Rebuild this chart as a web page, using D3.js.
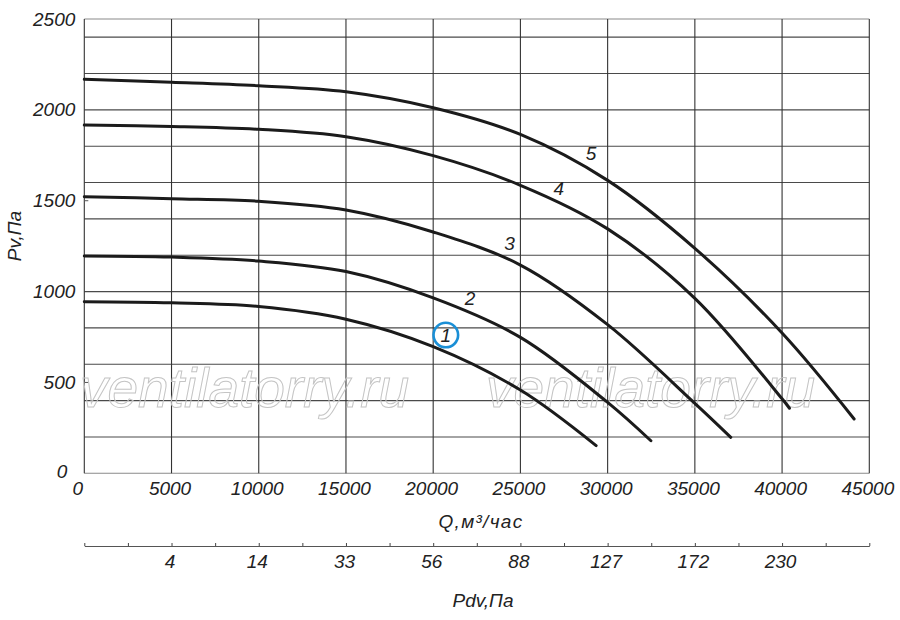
<!DOCTYPE html>
<html>
<head>
<meta charset="utf-8">
<script src="https://cdn.jsdelivr.net/npm/d3@7/dist/d3.min.js"></script>
<style>
  body { margin: 0; background: #fff; }
  svg { display: block; }
  text { font-family: "Liberation Sans", Arial, sans-serif; font-style: italic; fill: #222; }
</style>
</head>
<body>
<svg id="chart" width="900" height="620"></svg>
<script>
// ---- data ----
const qTicks = [0, 5000, 10000, 15000, 20000, 25000, 30000, 35000, 40000, 45000];
const pTicks = [0, 500, 1000, 1500, 2000, 2500];
const pGrid = [0, 200, 400, 600, 800, 1000, 1200, 1400, 1600, 1800, 2000, 2200, 2400, 2500];
const pMinorTicks = [500, 1500];
const pdvTickQ = [0, 2500, 5000, 7500, 10000, 12500, 15000, 17500, 20000, 22500, 25000, 27500, 30000, 32500, 35000, 37500, 40000, 42500, 45000];
const pdvLabelQ = [5000, 10000, 15000, 20000, 25000, 30000, 35000, 40000];
const pdvLabels = ["4", "14", "33", "56", "88", "127", "172", "230"];

const curveNames = ["1", "2", "3", "4", "5"];
const curve1Q = [0, 5000, 10000, 15000, 20000, 25000, 29340];
const curve1P = [944, 938, 918, 848, 697, 458, 152];
const curve2Q = [0, 5000, 10000, 15000, 20000, 25000, 30000, 32480];
const curve2P = [1196, 1190, 1168, 1110, 965, 748, 390, 179];
const curve3Q = [0, 5000, 10000, 15000, 20000, 25000, 30000, 35000, 37060];
const curve3P = [1522, 1511, 1497, 1449, 1328, 1146, 818, 385, 198];
const curve4Q = [0, 5000, 10000, 15000, 20000, 25000, 30000, 35000, 40000, 40425];
const curve4P = [1916, 1909, 1893, 1852, 1748, 1585, 1345, 963, 410, 358];
const curve5Q = [0, 5000, 10000, 15000, 20000, 25000, 30000, 35000, 40000, 44130];
const curve5P = [2168, 2152, 2133, 2100, 2012, 1865, 1612, 1238, 772, 299];
const labelQ = [20724, 22118, 24370, 27200, 29054];
const labelP = [761, 962, 1266, 1568, 1764];
const highlightedCurve = "1";

const xTitle = "Q,м³/час";
const yTitle = "Pv,Па";
const x2Title = "Pdv,Па";
const watermark = "ventilatorry.ru";

// ---- drawing ----
const svg = d3.select("#chart");
const x = d3.scaleLinear().domain([0, 45000]).range([84.3, 869.3]);
const y = d3.scaleLinear().domain([0, 2500]).range([473.3, 19]);

const curves = [
  curve1Q.map((q, i) => [q, curve1P[i]]),
  curve2Q.map((q, i) => [q, curve2P[i]]),
  curve3Q.map((q, i) => [q, curve3P[i]]),
  curve4Q.map((q, i) => [q, curve4P[i]]),
  curve5Q.map((q, i) => [q, curve5P[i]])
];

// grid
const grid = svg.append("g");
grid.selectAll("line.h").data(pGrid).join("line")
  .attr("x1", x(0)).attr("x2", x(45000))
  .attr("y1", d => y(d)).attr("y2", d => y(d))
  .attr("stroke", d => (d === 2500 || d === 0) ? "#8a8a8a" : "#4a4a4a")
  .attr("stroke-width", 1.1);
grid.selectAll("line.v").data(qTicks).join("line")
  .attr("x1", d => x(d)).attr("x2", d => x(d))
  .attr("y1", y(2500)).attr("y2", y(0))
  .attr("stroke", "#333").attr("stroke-width", 1.1);
grid.selectAll("line.m").data(pMinorTicks).join("line")
  .attr("x1", x(0)).attr("x2", x(0) + 4)
  .attr("y1", d => y(d)).attr("y2", d => y(d))
  .attr("stroke", "#555").attr("stroke-width", 1);

// watermark
const wm = svg.append("g");
[[80, 406.5], [486, 406.5]].forEach(p => {
  wm.append("text").attr("x", p[0]).attr("y", p[1])
    .attr("font-size", 55).style("fill", "none")
    .attr("stroke", "#c4c4c4").attr("stroke-width", 1)
    .text(watermark);
});

const fmt = d3.format("d");

// y axis labels
const yAxis = d3.axisLeft(y).tickValues(pTicks).tickFormat(fmt).tickSize(0).tickPadding(9);
const gy = svg.append("g").attr("transform", `translate(${x(0)},0)`).call(yAxis);
gy.select(".domain").remove();
gy.selectAll("text").attr("font-size", 19).attr("font-family", null)
  .attr("fill", "#222")
  .attr("dx", d => d === 0 ? -8 : 0).attr("dy", d => d === 0 ? "0.2em" : "0.32em");

// x axis labels
const xAxis = d3.axisBottom(x).tickValues(qTicks).tickFormat(fmt).tickSize(0).tickPadding(8);
const gx = svg.append("g").attr("transform", `translate(0,${y(0)})`).call(xAxis);
gx.select(".domain").remove();
gx.selectAll("text").attr("font-size", 19).attr("font-family", null)
  .attr("fill", "#222").attr("dx", d => d === 0 ? -7 : -2).attr("dy", "0.72em");

// secondary axis (Pdv)
const x2Axis = d3.axisBottom(x).tickValues(pdvTickQ).tickSizeInner(-3).tickSizeOuter(0).tickPadding(8)
  .tickFormat(d => { const i = pdvLabelQ.indexOf(d); return i >= 0 ? pdvLabels[i] : ""; });
const g2 = svg.append("g").attr("transform", "translate(0,546)").call(x2Axis);
g2.select(".domain").attr("stroke", "#555").attr("stroke-width", 1.2);
g2.selectAll(".tick line").attr("stroke", "#444");
g2.selectAll("text").attr("font-size", 19).attr("font-family", null)
  .attr("fill", "#222").attr("dx", -2).attr("dy", "0.75em");

// axis titles
svg.append("text").attr("x", 481).attr("y", 528).attr("text-anchor", "middle")
  .attr("font-size", 19).attr("letter-spacing", 1.3).text(xTitle);
svg.append("text").attr("x", 483).attr("y", 606.5).attr("text-anchor", "middle")
  .attr("font-size", 19).text(x2Title);
svg.append("text").attr("transform", "translate(21,236) rotate(-90)")
  .attr("text-anchor", "middle").attr("font-size", 19).text(yTitle);

// curves
const line = d3.line().x(d => x(d[0])).y(d => y(d[1])).curve(d3.curveCatmullRom.alpha(0.5));
svg.append("g").selectAll("path").data(curves).join("path")
  .attr("d", line).attr("fill", "none").attr("stroke", "#1b1b1b")
  .attr("stroke-width", 3).attr("stroke-linecap", "round");

// curve labels
const lg = svg.append("g");
curveNames.forEach((n, i) => {
  if (n === highlightedCurve) {
    lg.append("circle").attr("cx", x(labelQ[i])).attr("cy", y(labelP[i]))
      .attr("r", 12.3).attr("fill", "none").attr("stroke", "#1a8fd6").attr("stroke-width", 2.6);
  }
  lg.append("text").attr("x", x(labelQ[i])).attr("y", y(labelP[i]))
    .attr("dy", "0.36em").attr("text-anchor", "middle").attr("font-size", 19).text(n);
});
</script>
</body>
</html>
